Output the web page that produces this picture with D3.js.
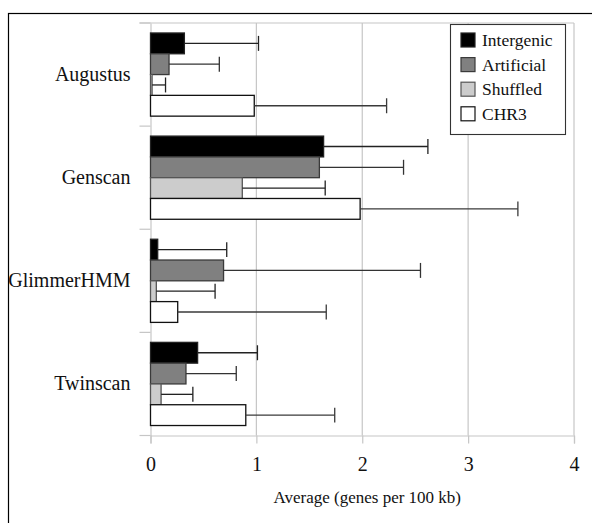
<!DOCTYPE html>
<html>
<head>
<meta charset="utf-8">
<script src="https://cdn.jsdelivr.net/npm/d3@7"></script>
<style>
  html, body { margin: 0; padding: 0; background: #fff; }
  svg { display: block; }
  text { font-family: "Liberation Serif", "DejaVu Serif", serif; fill: #111; }
</style>
</head>
<body>
<svg id="chart" width="592" height="523"></svg>
<script>
// Gene predictors on the category axis
const predictors = ["Augustus", "Genscan", "GlimmerHMM", "Twinscan"];
// Sequence sets drawn as bars within each predictor
const seriesNames = ["Intergenic", "Artificial", "Shuffled", "CHR3"];
// Average predicted genes per 100 kb, one value per predictor
const intergenic = [0.32, 1.635, 0.068, 0.445];
const artificial = [0.175, 1.595, 0.69, 0.335];
const shuffled   = [0.015, 0.867, 0.055, 0.10];
const chr3       = [0.98, 1.98, 0.257, 0.90];
// Standard deviations (upper error bars)
const intergenicErr = [0.70, 0.985, 0.652, 0.565];
const artificialErr = [0.475, 0.795, 1.86, 0.475];
const shuffledErr   = [0.127, 0.783, 0.555, 0.30];
const chr3Err       = [1.25, 1.49, 1.403, 0.84];
// Axis ticks and title
const xTicks = [0, 1, 2, 3, 4];
const xTitle = "Average (genes per 100 kb)";

const seriesValues = [intergenic, artificial, shuffled, chr3];
const seriesErrors = [intergenicErr, artificialErr, shuffledErr, chr3Err];
const fills   = ["#000000", "#808080", "#cccccc", "#ffffff"];
const strokes = ["#222222", "#3a3a3a", "#555555", "#111111"];
const errColors = ["#222222", "#333333", "#222222", "#3a3a3a"];

const rows = [];
predictors.forEach((p, i) => {
  seriesNames.forEach((s, j) => {
    rows.push({ predictor: p, series: s, value: seriesValues[j][i], err: seriesErrors[j][i], k: j });
  });
});

const svg = d3.select("#chart");
const gridColor = "#c6c6c6";

// Outer frame (open toward right and bottom edges)
svg.append("rect")
  .attr("x", 8.5).attr("y", 13.5)
  .attr("width", 640).attr("height", 560)
  .attr("fill", "none").attr("stroke", "#000").attr("stroke-width", 1.2);

const plotLeft = 150.5, plotRight = 574, plotTop = 23, plotBottom = 435.5;

const x = d3.scaleLinear().domain([0, 4]).range([plotLeft, plotRight]);
const y = d3.scaleBand().domain(predictors).range([plotTop, plotBottom]).padding(0);
const ySub = d3.scaleBand().domain(seriesNames).range([0, y.bandwidth()])
  .paddingInner(0).paddingOuter(0.48);

// Vertical gridlines and right frame line
svg.append("g").selectAll("line")
  .data(xTicks.slice(1))
  .join("line")
  .attr("x1", d => x(d)).attr("x2", d => x(d))
  .attr("y1", plotTop).attr("y2", plotBottom)
  .attr("stroke", gridColor).attr("stroke-width", 1.2);

// Top frame line
svg.append("line")
  .attr("x1", plotLeft - 11).attr("x2", plotRight)
  .attr("y1", plotTop).attr("y2", plotTop)
  .attr("stroke", gridColor).attr("stroke-width", 1.2);

// X axis (bottom)
const xAxis = d3.axisBottom(x).tickValues(xTicks).tickSize(8).tickPadding(13)
  .tickFormat(d3.format("d"));
const gx = svg.append("g").attr("transform", `translate(0,${plotBottom})`).call(xAxis);
gx.select(".domain").attr("stroke", gridColor).attr("stroke-width", 1.2);
gx.selectAll(".tick line").attr("stroke", gridColor).attr("stroke-width", 1.2);
gx.selectAll(".tick text")
  .attr("font-size", 20)
  .attr("font-family", "Liberation Serif, serif")
  .attr("fill", "#111");

// Y axis (left) with ticks at band boundaries
const gy = svg.append("g").attr("transform", `translate(${plotLeft},0)`)
  .call(d3.axisLeft(y).tickSize(0).tickPadding(20));
gy.select(".domain").attr("stroke", gridColor).attr("stroke-width", 1.2);
gy.selectAll(".tick text")
  .attr("font-size", 20)
  .attr("font-family", "Liberation Serif, serif")
  .attr("fill", "#111");
const boundaries = predictors.map(p => y(p)).concat([y(predictors[predictors.length - 1]) + y.bandwidth()]);
svg.append("g").selectAll("line")
  .data(boundaries)
  .join("line")
  .attr("x1", plotLeft - 11).attr("x2", plotLeft)
  .attr("y1", d => d).attr("y2", d => d)
  .attr("stroke", gridColor).attr("stroke-width", 1.2);

// Bars
const bars = svg.append("g");
bars.selectAll("rect")
  .data(rows)
  .join("rect")
  .attr("x", x(0))
  .attr("y", d => y(d.predictor) + ySub(d.series))
  .attr("width", d => x(d.value) - x(0))
  .attr("height", ySub.bandwidth())
  .attr("fill", d => fills[d.k])
  .attr("stroke", d => strokes[d.k])
  .attr("stroke-width", 1.3);

// Error bars
const errG = svg.append("g");
const capH = ySub.bandwidth() * 0.72;
rows.forEach(d => {
  const cy = y(d.predictor) + ySub(d.series) + ySub.bandwidth() / 2;
  const x0 = x(d.value), x1 = x(d.value + d.err);
  errG.append("line")
    .attr("x1", x0).attr("x2", x1).attr("y1", cy).attr("y2", cy)
    .attr("stroke", errColors[d.k]).attr("stroke-width", 1.3);
  errG.append("line")
    .attr("x1", x1).attr("x2", x1).attr("y1", cy - capH / 2).attr("y2", cy + capH / 2)
    .attr("stroke", errColors[d.k]).attr("stroke-width", 1.3);
});

// X axis title
svg.append("text")
  .attr("x", (plotLeft + plotRight) / 2 + 5)
  .attr("y", 503)
  .attr("text-anchor", "middle")
  .attr("font-size", 17)
  .text(xTitle);

// Legend
const legend = svg.append("g");
legend.append("rect")
  .attr("x", 450.5).attr("y", 24.5).attr("width", 115).attr("height", 110)
  .attr("fill", "#fff").attr("stroke", "#333").attr("stroke-width", 1.1);
seriesNames.forEach((s, j) => {
  const cy = 40 + j * 24.6;
  legend.append("rect")
    .attr("x", 461).attr("y", cy - 7).attr("width", 14).attr("height", 14)
    .attr("fill", fills[j]).attr("stroke", strokes[j]).attr("stroke-width", 1.2);
  legend.append("text")
    .attr("x", 482).attr("y", cy + 6)
    .attr("font-size", 17.5)
    .text(s);
});
</script>
</body>
</html>
